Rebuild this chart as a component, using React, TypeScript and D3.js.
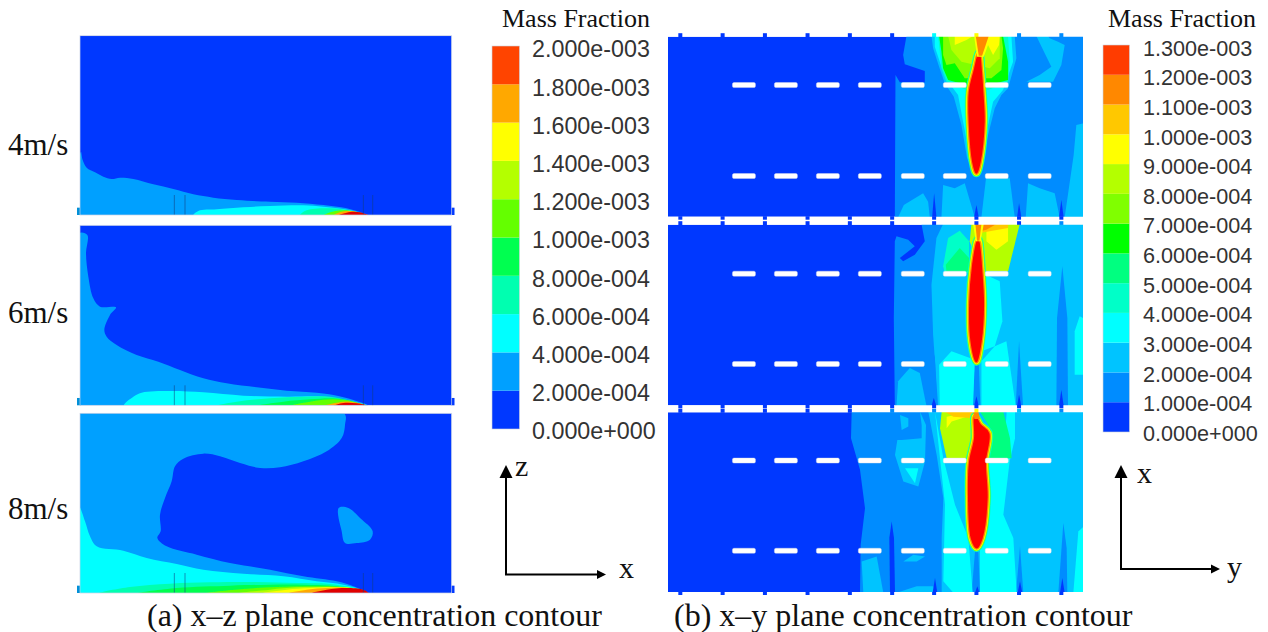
import * as d3 from "d3";

type Pt = [number, number];
type Layer = [number, Pt[]];

// contour levels, lower bound of each band (in 1e-4)
const levelsXZ = [0, 2, 4, 6, 8, 10, 12, 14, 16, 18];
const coloursXZ = ["#0038ff", "#00a0ff", "#00ffff", "#00ffb0", "#00ff50", "#64ff00", "#b4ff00", "#ffff00", "#ffa800", "#ff4400"];
const labelsXZ = ["2.000e-003", "1.800e-003", "1.600e-003", "1.400e-003", "1.200e-003", "1.000e-003", "8.000e-004", "6.000e-004", "4.000e-004", "2.000e-004", "0.000e+000"];

const levelsXY = [0, 1, 2, 3, 4, 5, 6, 7, 8, 9, 10, 11, 12];
const coloursXY = ["#0038ff", "#008cff", "#00c4ff", "#00ffff", "#00ffc8", "#00ff80", "#00ff00", "#80ff00", "#b4ff00", "#ffff00", "#ffc800", "#ff8800", "#ff3c00"];
const labelsXY = ["1.300e-003", "1.200e-003", "1.100e-003", "1.000e-003", "9.000e-004", "8.000e-004", "7.000e-004", "6.000e-004", "5.000e-004", "4.000e-004", "3.000e-004", "2.000e-004", "1.000e-004", "0.000e+000"];

const speeds = ["4m/s", "6m/s", "8m/s"];

// x-z plane bands, outlines
const xz4: Layer[] = [
  [2, [[33, 380], [38, 405], [50, 428], [75, 442], [100, 455], [125, 462], [150, 458], [190, 462], [250, 478], [310, 492], [370, 508], [430, 518], [500, 525], [600, 530], [680, 533], [760, 540], [830, 550], [880, 565], [895, 572], [30, 572]]],
  [4, [[370, 572], [385, 558], [440, 553], [520, 547], [600, 543], [700, 541], [760, 545], [820, 552], [880, 566], [895, 572]]],
  [6, [[690, 572], [710, 556], [780, 550], [840, 557], [885, 572]]],
  [10, [[760, 572], [795, 558], [840, 557], [885, 572]]],
  [16, [[790, 572], [812, 561], [850, 559], [890, 572]]],
  [18, [[805, 572], [840, 561], [870, 562], [897, 572]]],
];
const xz6: Layer[] = [
  [2, [[27, 40], [52, 45], [48, 100], [55, 170], [70, 235], [90, 260], [138, 262], [120, 285], [103, 330], [110, 350], [140, 375], [200, 405], [265, 425], [330, 450], [400, 475], [470, 490], [560, 502], [650, 512], [740, 518], [790, 525], [850, 540], [895, 558], [27, 558]]],
  [4, [[162, 558], [190, 530], [215, 518], [300, 513], [400, 517], [520, 527], [650, 530], [760, 530], [820, 540], [895, 558]]],
  [6, [[440, 558], [500, 545], [600, 535], [700, 530], [780, 530], [840, 542], [890, 558]]],
  [8, [[560, 558], [640, 545], [720, 538], [790, 535], [850, 545], [880, 558]]],
  [10, [[660, 558], [720, 545], [790, 538], [850, 545], [880, 558]]],
  [16, [[760, 558], [800, 548], [840, 545], [880, 553], [890, 558]]],
  [18, [[790, 558], [820, 549], [860, 550], [895, 558]]],
];
const xz8: Layer[] = [
  [2, [[27, 16], [822, 16], [825, 50], [815, 90], [770, 130], [700, 160], [630, 178], [570, 180], [510, 165], [450, 145], [400, 137], [340, 152], [315, 175], [305, 220], [285, 270], [270, 320], [272, 370], [262, 390], [290, 415], [380, 440], [480, 465], [600, 485], [700, 505], [800, 520], [850, 535], [895, 557], [27, 557]]],
  [2, [[806, 300], [835, 300], [870, 330], [908, 370], [900, 395], [860, 405], [825, 405], [815, 370]]],
  [4, [[27, 295], [45, 340], [60, 385], [80, 415], [160, 428], [230, 450], [320, 468], [400, 485], [520, 497], [640, 505], [740, 520], [820, 530], [880, 548], [890, 557], [27, 557]]],
  [6, [[85, 557], [180, 537], [300, 527], [420, 523], [560, 522], [680, 525], [780, 528], [880, 548], [890, 557]]],
  [8, [[200, 557], [320, 540], [480, 533], [600, 530], [700, 530], [800, 535], [885, 557]]],
  [10, [[400, 557], [520, 543], [620, 537], [720, 535], [820, 538], [885, 557]]],
  [12, [[500, 557], [600, 545], [680, 538], [760, 537], [840, 540], [885, 557]]],
  [14, [[570, 557], [650, 545], [720, 540], [800, 538], [860, 543], [885, 557]]],
  [16, [[650, 557], [710, 545], [770, 540], [830, 540], [885, 557]]],
  [18, [[720, 557], [770, 545], [830, 540], [880, 545], [897, 557]]],
];

// x-y plane bands
const xy4: Layer[] = [
  [1, [[80, 33], [70, 90], [75, 118], [135, 138], [135, 172], [60, 172], [47, 150], [45, 577], [612, 577], [612, 33]]],
  [2, [[155, 33], [160, 70], [178, 125], [195, 175], [222, 215], [245, 300], [262, 400], [280, 440], [300, 440], [325, 330], [345, 250], [365, 210], [385, 190], [410, 100], [405, 33]]],
  [2, [[470, 33], [495, 85], [515, 125], [480, 150], [440, 170], [520, 170], [545, 120], [555, 60], [535, 50], [510, 40], [505, 33]]],
  [2, [[555, 577], [582, 390], [590, 300], [612, 295], [612, 577]]],
  [2, [[55, 577], [72, 540], [130, 505], [145, 530], [150, 577]]],
  [2, [[185, 577], [190, 480], [225, 490], [255, 475], [285, 577]]],
  [2, [[305, 577], [320, 450], [390, 460], [405, 577]]],
  [2, [[438, 577], [445, 475], [480, 490], [525, 505], [540, 577]]],
  [3, [[165, 33], [165, 65], [185, 125], [205, 170], [235, 210], [250, 290], [275, 420], [305, 420], [325, 300], [340, 230], [370, 195], [400, 110], [395, 33]]],
  [4, [[175, 33], [180, 80], [185, 130], [200, 170], [260, 195], [325, 195], [385, 170], [390, 110], [385, 33]]],
  [6, [[178, 33], [185, 80], [190, 130], [205, 165], [260, 180], [330, 180], [385, 165], [385, 110], [370, 33]]],
  [7, [[190, 33], [190, 90], [200, 120], [225, 115], [255, 160], [335, 160], [365, 135], [370, 70], [365, 33]]],
  [8, [[205, 33], [215, 75], [245, 110], [330, 130], [360, 100], [360, 33]]],
  [9, [[225, 33], [225, 60], [260, 45], [280, 33]]],
  [9, [[325, 33], [325, 60], [340, 90], [358, 60], [360, 33]]],
  [0, [[157, 577], [163, 505], [170, 577]]],
  [0, [[283, 577], [290, 540], [297, 577]]],
  [0, [[412, 577], [418, 535], [425, 577]]],
  [0, [[538, 577], [545, 525], [552, 577]]],
];
const xy6: Layer[] = [
  [1, [[45, 564], [42, 300], [45, 70], [50, 55], [85, 65], [105, 85], [60, 120], [70, 130], [105, 110], [135, 70], [125, 18], [612, 18], [612, 564]]],
  [2, [[190, 18], [170, 60], [155, 200], [160, 350], [175, 564], [612, 564], [612, 18]]],
  [2, [[50, 564], [55, 490], [90, 450], [120, 465], [140, 564]]],
  [1, [[278, 564], [285, 435], [297, 435], [302, 564]]],
  [1, [[408, 564], [418, 370], [430, 564]]],
  [1, [[530, 564], [532, 300], [548, 145], [563, 300], [565, 564]]],
  [1, [[150, 564], [152, 450], [165, 410], [172, 564]]],
  [3, [[585, 470], [585, 340], [600, 295], [610, 300], [610, 470]]],
  [3, [[180, 564], [178, 440], [215, 400], [285, 425], [280, 564]]],
  [3, [[305, 564], [305, 430], [345, 385], [380, 370], [408, 564]]],
  [4, [[190, 145], [205, 60], [240, 38], [268, 70], [268, 165], [195, 165]]],
  [3, [[318, 170], [360, 190], [368, 310], [345, 385], [305, 400]]],
  [5, [[198, 140], [240, 90], [268, 120], [268, 160], [200, 160]]],
  [8, [[275, 18], [270, 70], [300, 160], [385, 160], [420, 18]]],
  [9, [[320, 30], [320, 70], [350, 95], [385, 70], [385, 25]]],
  [10, [[285, 18], [300, 45], [385, 30], [385, 18]]],
  [11, [[295, 18], [300, 40], [320, 35], [350, 18]]],
  [0, [[155, 564], [162, 540], [170, 564]]],
  [0, [[283, 564], [290, 535], [297, 564]]],
  [0, [[412, 564], [418, 530], [425, 564]]],
  [0, [[538, 564], [545, 515], [552, 564]]],
];
const xy8: Layer[] = [
  [1, [[35, 20], [33, 100], [60, 195], [75, 310], [62, 420], [60, 564], [731, 564], [731, 20]]],
  [2, [[172, 105], [165, 150], [190, 230], [235, 245], [255, 170], [258, 60], [240, 20], [245, 60], [245, 100], [185, 105]]],
  [2, [[180, 30], [205, 40], [205, 65], [185, 75]]],
  [3, [[195, 190], [235, 190], [225, 235]]],
  [2, [[70, 564], [65, 470], [110, 455], [130, 564]]],
  [2, [[190, 470], [220, 450], [255, 455], [230, 470]]],
  [2, [[170, 564], [230, 545], [280, 545], [285, 564]]],
  [2, [[265, 20], [290, 150], [310, 280], [305, 400], [305, 564], [731, 564], [731, 20]]],
  [1, [[395, 564], [405, 440], [415, 440], [420, 564]]],
  [1, [[528, 564], [540, 425], [550, 564]]],
  [1, [[655, 564], [670, 355], [680, 430], [682, 564]]],
  [3, [[700, 564], [715, 380], [731, 365], [731, 564]]],
  [3, [[285, 20], [310, 160], [345, 300], [385, 400], [398, 564], [340, 564], [310, 530], [315, 300]]],
  [3, [[445, 160], [510, 160], [490, 330], [520, 400], [530, 564], [420, 564], [420, 430]]],
  [3, [[500, 20], [525, 20], [525, 100], [510, 165], [490, 165]]],
  [5, [[420, 20], [445, 60], [450, 160], [515, 160], [510, 100], [500, 60], [490, 20]]],
  [8, [[305, 20], [300, 70], [320, 160], [385, 160], [395, 100], [395, 20]]],
  [9, [[320, 35], [320, 70], [335, 50], [380, 35], [395, 20]]],
  [10, [[315, 20], [400, 20], [400, 40], [340, 35]]],
  [0, [[150, 564], [148, 400], [155, 350], [162, 400], [165, 564]]],
  [0, [[278, 564], [285, 520], [292, 564]]],
  [0, [[405, 564], [412, 545], [418, 564]]],
  [0, [[533, 564], [540, 530], [547, 564]]],
  [0, [[660, 564], [667, 520], [674, 564]]],
];

const plume4: Pt[] = [[298, 85], [285, 135], [270, 200], [270, 300], [280, 410], [290, 443], [300, 410], [312, 290], [308, 200], [303, 130]];
const plume6: Pt[] = [[295, 65], [280, 140], [271, 260], [275, 370], [290, 430], [303, 370], [310, 260], [305, 160]];
const plume8: Pt[] = [[405, 35], [420, 60], [445, 85], [435, 170], [440, 280], [425, 400], [410, 428], [395, 400], [387, 280], [390, 170], [405, 100]];

// orange channel above each plume tip, drawn over the halo
const cap4: Layer[] = [
  [9, [[283, 33], [292, 95], [312, 95], [335, 33]]],
  [11, [[288, 33], [297, 92], [307, 92], [327, 33]]],
];
const cap6: Layer[] = [
  [9, [[280, 18], [288, 70], [303, 70], [312, 18]]],
  [11, [[287, 18], [292, 68], [299, 68], [305, 18]]],
];
const cap8: Layer[] = [
  [11, [[400, 20], [403, 42], [420, 42], [415, 20]]],
];

// cross-members along y, read in the first x-y panel's units
const dashCentres = [-408, -282, -156, -30, 99, 225, 351, 480];
const stubCentres = [-599, -472, -345, -217, -90, 37, 163, 290, 418, 545];
const stubLevels4 = [0, 0, 0, 0, 0, 0, 3, 9, 1, 1];
const stubLevels6 = [0, 0, 0, 0, 0, 0, 0, 0, 0, 1];
const stubLevels8 = [0, 0, 0, 0, 0, 1, 1, 9, 2, 1];
const dashRows4 = [180, 453];
const dashRows6 = [167, 438];
const dashRows8 = [167, 438];
const poleLines = [313, 345, 880, 908];

const colourXZ = d3.scaleOrdinal<number, string>(levelsXZ, coloursXZ);
const colourXY = d3.scaleOrdinal<number, string>(levelsXY, coloursXY);
const halos: [number, number][] = [[9, 4], [7.5, 7], [6, 9], [4.5, 11]];

const lineOf = (x: any, y: any, curve: any) =>
  d3.line<Pt>().x(d => x(d[0])).y(d => y(d[1])).curve(curve);

function PanelXZ({ id, layers, top, bottom, dTop, dBottom, label }: any) {
  const x = d3.scaleLinear().domain([30, 1145]).range([80, 451.7]);
  const y = d3.scaleLinear().domain([dTop, dBottom]).range([top, bottom]);
  const path = lineOf(x, y, d3.curveCatmullRomClosed.alpha(0.5));
  const stripTop = y(dBottom - 22);
  return (
    <g>
      <rect x={77} y={stripTop} width={4} height={bottom - stripTop} fill="#0090d8" />
      <rect x={451} y={stripTop} width={3.5} height={bottom - stripTop} fill="#0038ff" />
      <clipPath id={id}><rect x={80} y={top} width={371.7} height={bottom - top} /></clipPath>
      <g clipPath={`url(#${id})`} filter="url(#soft)">
        <rect x={80} y={top} width={371.7} height={bottom - top} fill={coloursXZ[0]} />
        {layers.map((l: Layer, i: number) => (
          <path key={i} d={path(l[1]) as string} fill={l[0] === 18 ? "#e00000" : colourXZ(l[0])} />
        ))}
      </g>
      {poleLines.map(p => (
        <line key={p} x1={x(p)} x2={x(p)} y1={bottom - 20} y2={bottom} stroke="#123f80" strokeOpacity={0.7} strokeWidth={0.8} />
      ))}
      <rect x={80} y={top} width={371.7} height={bottom - top} fill="none" stroke="#c8d2e6" strokeWidth={0.7} />
      <text x={8} y={label} fontFamily="Liberation Serif" fontSize={31} fill="#111">{speeds[id.slice(-1)]}</text>
    </g>
  );
}

function PanelXY({ id, layers, plume, caps, top, bottom, dLeft, dRight, dTop, dBottom, rows, stubs }: any) {
  const x = d3.scaleLinear().domain([dLeft, dRight]).range([668, 1083]);
  const y = d3.scaleLinear().domain([dTop, dBottom]).range([top, bottom]);
  const memberX = d3.scaleLinear().domain([-636, 610]).range([668, 1083]);
  const path = lineOf(x, y, d3.curveLinearClosed);
  const smooth = lineOf(x, y, d3.curveCatmullRomClosed.alpha(0.5));
  return (
    <g>
      {stubCentres.map((c, i) => (
        <g key={c}>
          <rect x={memberX(c) - 2} y={top - 3.5} width={4} height={4} fill={colourXY(stubs[i])} />
          <rect x={memberX(c) - 2} y={bottom - 0.5} width={4} height={3.5} fill="#0038ff" />
        </g>
      ))}
      <clipPath id={id}><rect x={668} y={top} width={415} height={bottom - top} /></clipPath>
      <g clipPath={`url(#${id})`} filter="url(#soft)">
        <rect x={668} y={top} width={415} height={bottom - top} fill={coloursXY[0]} />
        {layers.map((l: Layer, i: number) => (
          <path key={i} d={path(l[1]) as string} fill={colourXY(l[0])} />
        ))}
        {halos.map(h => (
          <path key={h[1]} d={smooth(plume) as string} fill="none" stroke={colourXY(h[1])} strokeWidth={h[0]} strokeLinejoin="round" />
        ))}
        <path d={smooth(plume) as string} fill="#ff0000" stroke="#ff0000" strokeWidth={2} strokeLinejoin="round" />
        {caps.map((l: Layer, i: number) => (
          <path key={i} d={path(l[1]) as string} fill={colourXY(l[0])} />
        ))}
      </g>
      {rows.map((r: number) => dashCentres.map(c => (
        <rect key={`${r}-${c}`} x={memberX(c) - 11.5} y={y(r) - 2.5} width={23} height={5} rx={1.5} fill="#fff" stroke="#d8dfe8" strokeWidth={0.4} />
      )))}
    </g>
  );
}

function Legend({ x, top, bottom, width, labels, colours, title, titleX, labelX, fontSize, firstLabel, lastLabel }: any) {
  const pos = d3.scaleLinear().domain([0, colours.length]).range([bottom, top]);
  const labelY = d3.scaleLinear().domain([0, labels.length - 1]).range([firstLabel, lastLabel]);
  return (
    <g>
      <text x={titleX} y={27} fontFamily="Liberation Serif" fontSize={26} fill="#111">{title}</text>
      {colours.map((c: string, i: number) => (
        <rect key={c} x={x} y={pos(i + 1)} width={width} height={pos(i) - pos(i + 1)} fill={c} />
      ))}
      <rect x={x} y={top} width={width} height={bottom - top} fill="none" stroke="#cdd3dd" strokeWidth={0.6} />
      {labels.map((l: string, i: number) => (
        <text key={l} x={labelX} y={labelY(i)} dy="0.36em" fontFamily="Liberation Sans" fontSize={fontSize} fill="#333">{l}</text>
      ))}
    </g>
  );
}

function Axes({ x0, y0, yTop, xEnd, up, right, upX, upY, rightX, rightY }: any) {
  return (
    <g>
      <path d={`M${x0},${yTop + 10}V${y0}H${xEnd - 6}`} fill="none" stroke="#000" strokeWidth={2} />
      <path d={`M${x0},${yTop}l-6.5,13h13Z`} fill="#000" />
      <path d={`M${xEnd},${y0}l-9,-4.5v9Z`} fill="#000" />
      <text x={upX} y={upY} fontFamily="Liberation Serif" fontSize={30} fill="#111">{up}</text>
      <text x={rightX} y={rightY} fontFamily="Liberation Serif" fontSize={30} fill="#111">{right}</text>
    </g>
  );
}

export default function App() {
  return (
    <svg width={1268} height={632} style={{ position: "absolute", left: 0, top: 0 }}>
      <defs>
        <filter id="soft" x="-2%" y="-2%" width="104%" height="104%">
          <feGaussianBlur stdDeviation={0.55} />
        </filter>
      </defs>
      <rect width={1268} height={632} fill="#fff" />

      <PanelXZ id="xz0" layers={xz4} top={35.7} bottom={215} dTop={32} dBottom={570} label={155} />
      <PanelXZ id="xz1" layers={xz6} top={225.3} bottom={405.3} dTop={16} dBottom={556} label={323} />
      <PanelXZ id="xz2" layers={xz8} top={413.3} bottom={593} dTop={16} dBottom={555} label={519} />

      <PanelXY id="xy0" layers={xy4} plume={plume4} caps={cap4} top={36.7} bottom={216.7} dLeft={-636} dRight={610} dTop={35} dBottom={575} rows={dashRows4} stubs={stubLevels4} />
      <PanelXY id="xy1" layers={xy6} plume={plume6} caps={cap6} top={224.7} bottom={405.3} dLeft={-636} dRight={610} dTop={20} dBottom={562} rows={dashRows6} stubs={stubLevels6} />
      <PanelXY id="xy2" layers={xy8} plume={plume8} caps={cap8} top={412.3} bottom={592} dLeft={-516} dRight={729} dTop={22} dBottom={562} rows={dashRows8} stubs={stubLevels8} />

      <Legend x={492} top={46} bottom={429} width={27.5} labels={labelsXZ} colours={coloursXZ} title="Mass Fraction" titleX={502} labelX={532} fontSize={23.3} firstLabel={49} lastLabel={431} />
      <Legend x={1103} top={45} bottom={432} width={26.5} labels={labelsXY} colours={coloursXY} title="Mass Fraction" titleX={1108} labelX={1143} fontSize={21.6} firstLabel={48} lastLabel={433} />

      <Axes x0={506} y0={574.5} yTop={465} xEnd={606} up="z" right="x" upX={515} upY={476} rightX={619} rightY={578} />
      <Axes x0={1121} y0={569} yTop={465} xEnd={1220} up="x" right="y" upX={1137} upY={483} rightX={1227} rightY={577} />

      <text x={147} y={626} fontFamily="Liberation Serif" fontSize={32} fill="#111">(a) x–z plane concentration contour</text>
      <text x={674} y={626} fontFamily="Liberation Serif" fontSize={32} fill="#111">(b) x–y plane concentration contour</text>
    </svg>
  );
}
